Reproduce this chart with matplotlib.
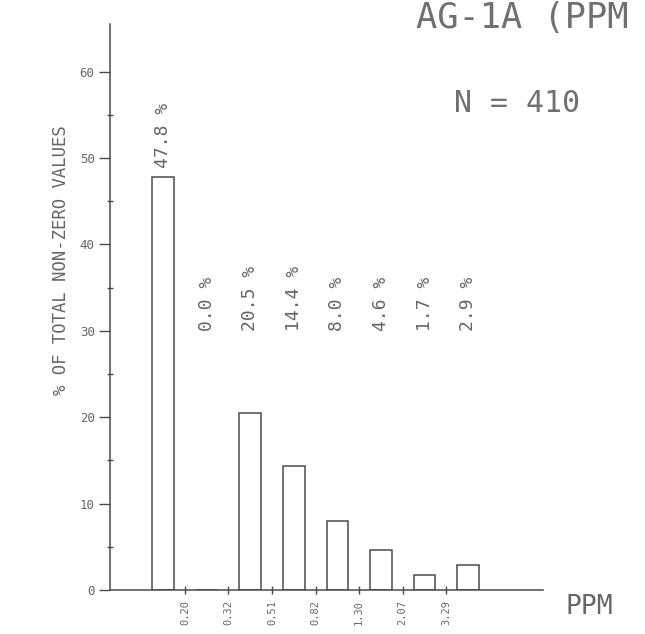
#!/usr/bin/env python3
# coding=utf-8

import numpy as np
from matplotlib import pyplot as plt

# bin edges shown on the x axis (ppm) and percent of values per bin
edges = ["0.20", "0.32", "0.51", "0.82", "1.30", "2.07", "3.29"]
percents = [47.8, 0.0, 20.5, 14.4, 8.0, 4.6, 1.7, 2.9]
n_values = 410

INK = "#4a4a4a"
TXT = "#666666"
MONO = "DejaVu Sans Mono"


def main():
    plt.rcParams["font.family"] = MONO
    fig = plt.figure(figsize=(6.45, 6.34), dpi=100)
    ax = fig.add_axes([110 / 645, 44 / 634, 433 / 645, 566 / 634])

    x = np.arange(len(percents))
    ax.bar(x, percents, width=0.5, facecolor="white", edgecolor=INK, linewidth=1.1)

    # percent labels, rotated, never lower than 30 %
    for xi, p in zip(x, percents):
        ypos = max(p + 1.0, 30.0)
        ax.text(xi, ypos, f"{p:.1f} %", rotation=90, ha="center", va="bottom",
                fontsize=13, color=TXT)

    ax.set_xlim(-1.22, 8.72)
    ax.set_ylim(0, 65.5)

    for s in ["top", "right"]:
        ax.spines[s].set_visible(False)
    for s in ["left", "bottom"]:
        ax.spines[s].set_color(INK)
        ax.spines[s].set_linewidth(1.1)

    ax.set_xticks(np.arange(len(edges)) + 0.5)
    ax.set_xticklabels(edges, rotation=90, fontsize=7.5, color=TXT)
    ax.set_yticks(np.arange(0, 61, 10))
    ax.set_yticks(np.arange(5, 61, 10), minor=True)
    ax.tick_params(axis="y", which="major", direction="out", length=8, width=1,
                   color=INK, labelsize=9, labelcolor=TXT, pad=3)
    ax.tick_params(axis="y", which="minor", direction="inout", length=5, width=1, color=INK)
    ax.tick_params(axis="x", which="major", direction="inout", length=6, width=1,
                   color=INK, pad=4)

    fig.text(61 / 645, 1 - 260 / 634, "% OF TOTAL NON-ZERO VALUES", rotation=90,
             ha="center", va="center", fontsize=12.4, color=TXT)
    fig.text(416 / 645, 1 - 18 / 634, "AG-1A (PPM", ha="left", va="center",
             fontsize=25.5, color="#707070")
    fig.text(454 / 645, 1 - 104 / 634, f"N = {n_values}", ha="left", va="center",
             fontsize=21.5, color="#707070")
    fig.text(566 / 645, 1 - 607 / 634, "PPM", ha="left", va="center",
             fontsize=19, color=TXT)

    fig.savefig("out.png", dpi=100)


if __name__ == "__main__":
    main()
